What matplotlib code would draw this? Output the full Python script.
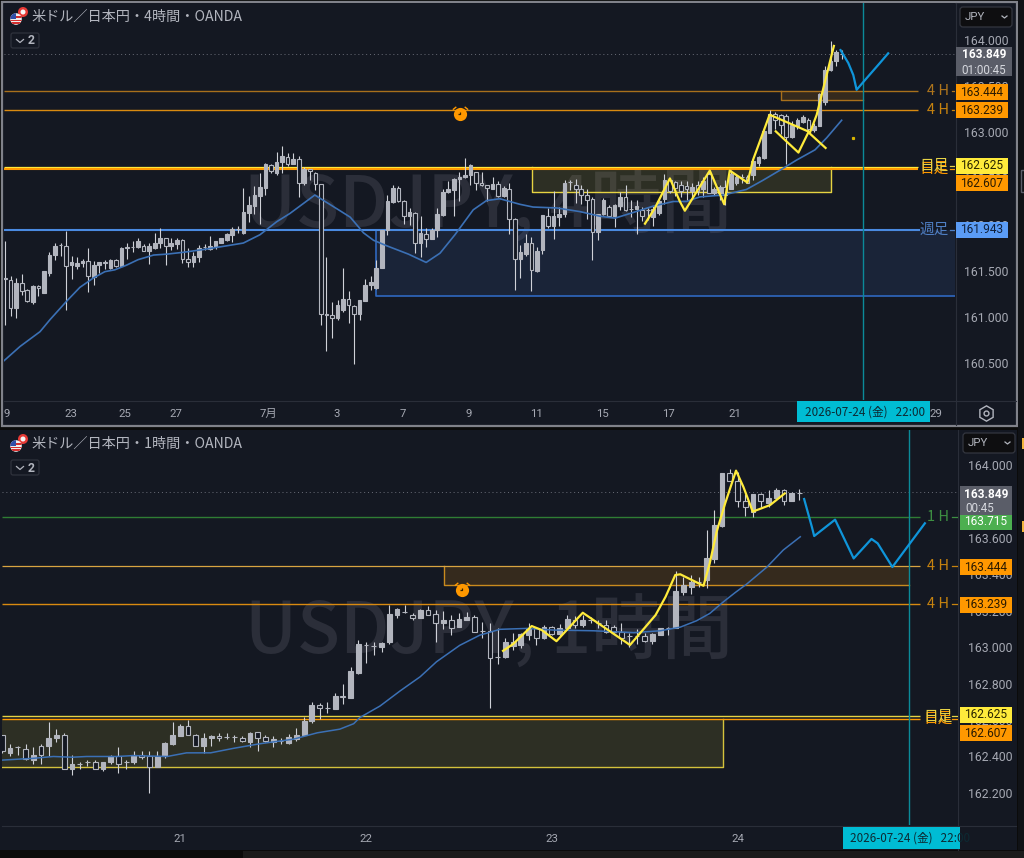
import matplotlib
matplotlib.use('Agg')
import matplotlib.pyplot as plt
from matplotlib.patches import Rectangle, FancyBboxPatch, Circle
from matplotlib.path import Path

plt.rcParams['font.family'] = ['Noto Sans CJK JP', 'DejaVu Sans']

# 4 hour candles
h4_open = [161.42,161.40,161.10,161.37,161.29,161.16,161.34,161.26,161.48,161.67,
161.78,161.77,161.56,161.55,161.58,161.61,161.43,161.56,161.60,161.53,
161.62,161.55,161.75,161.76,161.76,161.77,161.71,161.75,161.80,161.85,
161.77,161.79,161.83,161.63,161.59,161.65,161.76,161.74,161.76,161.80,
161.83,161.89,161.95,161.91,162.13,162.20,162.31,162.40,162.65,162.56,
162.68,162.73,162.66,162.71,162.45,162.60,162.56,162.44,161.03,161.02,
160.99,161.08,161.19,161.12,161.03,161.17,161.35,161.31,161.53,161.94,
162.24,162.40,162.26,162.09,162.13,161.80,161.90,161.84,161.94,162.10,
162.35,162.37,162.49,162.52,162.54,162.57,162.45,162.43,162.39,162.44,
162.31,162.39,162.06,161.63,161.68,161.80,161.50,161.73,162.09,161.99,
162.08,162.11,162.46,162.43,162.39,162.32,162.28,161.92,162.11,162.19,
162.09,162.20,162.30,162.17,162.17,162.16,162.16,162.08,162.13,162.28,
162.48,162.46,162.43,162.42,162.36,162.43,162.38,162.55,162.34,162.34,
162.41,162.39,162.45,162.51,162.52,162.54,162.67,162.72,162.99,163.20,
163.19,163.18,162.95,163.07,163.11,163.13,163.02,163.07,163.33,163.67,
163.77,163.85]
h4_close = [161.41,161.10,161.37,161.28,161.17,161.34,161.31,161.50,161.67,161.77,
161.78,161.55,161.60,161.58,161.61,161.44,161.56,161.60,161.58,161.62,
161.55,161.75,161.76,161.76,161.82,161.71,161.77,161.80,161.85,161.77,
161.80,161.83,161.63,161.59,161.66,161.75,161.76,161.77,161.82,161.85,
161.90,161.95,161.95,162.14,162.21,162.32,162.41,162.66,162.58,162.68,
162.74,162.66,162.71,162.45,162.60,162.58,162.44,161.03,161.02,160.99,
161.13,161.19,161.13,161.03,161.18,161.35,161.38,161.53,161.94,162.25,
162.40,162.25,162.09,162.14,161.80,161.91,161.84,161.94,162.11,162.35,
162.38,162.49,162.52,162.54,162.65,162.45,162.43,162.40,162.44,162.31,
162.40,162.06,161.63,161.70,161.80,161.51,161.71,162.10,161.99,162.09,
162.12,162.45,162.46,162.39,162.32,162.27,161.92,162.11,162.27,162.09,
162.21,162.30,162.16,162.17,162.20,162.09,162.16,162.17,162.25,162.48,
162.36,162.40,162.36,162.38,162.41,162.36,162.47,162.34,162.39,162.41,
162.32,162.55,162.52,162.51,162.45,162.69,162.73,163.01,163.20,163.13,
163.08,162.95,163.08,163.13,163.17,163.04,163.07,163.41,163.67,163.77,
163.87,163.85]
h4_high = [161.82,161.44,161.42,161.46,161.30,161.35,161.35,161.50,161.70,161.80,
161.80,161.93,161.66,161.65,161.63,161.75,161.61,161.60,161.62,161.63,
161.63,161.76,161.80,161.82,161.85,161.79,161.80,161.91,161.96,161.85,
161.85,161.85,161.84,161.75,161.70,161.78,161.79,161.88,161.82,161.86,
161.91,161.97,161.99,162.40,162.31,162.42,162.56,162.67,162.66,162.79,
162.85,162.77,162.77,162.74,162.62,162.60,162.57,162.44,161.65,161.16,
161.18,161.53,161.28,161.13,161.18,161.41,161.44,161.62,161.94,162.32,
162.43,162.42,162.27,162.18,162.14,162.09,161.96,161.96,162.18,162.38,
162.47,162.50,162.57,162.72,162.66,162.57,162.57,162.43,162.51,162.47,
162.42,162.45,162.07,161.78,161.90,161.87,161.76,162.10,162.18,162.36,
162.19,162.48,162.48,162.49,162.43,162.38,162.30,162.12,162.29,162.21,
162.22,162.35,162.43,162.27,162.27,162.19,162.18,162.20,162.30,162.55,
162.48,162.47,162.47,162.47,162.45,162.47,162.52,162.57,162.41,162.43,
162.48,162.59,162.54,162.55,162.54,162.71,162.74,163.05,163.24,163.22,
163.20,163.20,163.12,163.15,163.19,163.15,163.10,163.42,163.72,163.99,
163.89,163.89]
h4_low = [160.91,161.01,160.99,161.24,161.16,161.14,161.23,161.26,161.44,161.62,
161.66,161.08,161.41,161.52,161.54,161.27,161.35,161.48,161.52,161.52,
161.54,161.55,161.63,161.70,161.75,161.71,161.57,161.74,161.75,161.56,
161.73,161.74,161.58,161.54,161.54,161.59,161.73,161.73,161.74,161.80,
161.82,161.81,161.91,161.90,162.03,162.12,162.01,162.32,162.56,162.54,
162.56,162.63,162.66,162.30,162.43,162.48,162.37,160.91,160.63,160.77,
160.97,161.05,160.93,160.49,160.97,161.17,161.29,161.30,161.53,161.89,
162.23,162.24,162.01,162.00,161.69,161.65,161.76,161.84,161.87,162.09,
162.34,162.09,162.26,162.50,162.43,162.37,162.42,162.25,162.38,162.30,
162.30,161.90,161.29,161.42,161.66,161.28,161.49,161.68,161.96,161.84,
161.99,162.08,162.37,162.23,162.22,162.06,161.62,161.83,162.10,162.08,
161.97,162.16,162.15,162.08,161.90,162.04,162.05,161.99,162.10,162.22,
162.34,162.31,162.30,162.27,162.30,162.32,162.30,162.34,162.32,162.27,
162.21,162.38,162.43,162.45,162.45,162.48,162.63,162.71,162.99,163.03,
162.98,162.66,162.94,163.04,163.10,163.00,163.00,163.07,163.30,163.66,
163.72,163.79]

h4_ma_x = [-0.3,2.7,6.3,8.1,11.1,13.5,15.9,18,19.8,21.9,24,26.8,29.2,32.2,35.8,40,43,46,49,51.4,55.9,
           60.45,62.3,64.7,66.5,68.9,72.8,76,78.5,81.2,84.5,86.9,89.3,92.9,95.3,99.6,103.8,107.4,110.1,112.8,117,120.6,
           123,125.4,129.6,133.8,136.8,139.9,142.9,146.2,148.3,151]
h4_ma = [160.52,160.68,160.84,160.97,161.17,161.32,161.42,161.49,161.51,161.56,161.62,161.67,161.68,161.70,161.73,161.77,161.80,161.89,162.03,162.12,162.32,
         162.15,162.08,161.91,161.83,161.77,161.68,161.59,161.69,161.89,162.16,162.26,162.28,162.22,162.19,162.18,162.14,162.09,162.07,162.12,162.20,162.25,
         162.25,162.30,162.32,162.38,162.48,162.59,162.70,162.81,162.94,163.13]

h4_zig_x = [115.5,117.3,120,121.8,122.7,127.2,129.8,130.8,134,135,138,145.3,146.5,149.6]
h4_zig = [162.01,162.18,162.50,162.25,162.15,162.585,162.22,162.585,162.455,162.70,163.19,163.00,163.19,163.935]
h4_zig2_x = [139.1,143.2,145,148.1]
h4_zig2 = [163.01,162.78,163.00,162.83]
h4_path_x = [150.8,152.2,153.1,153.7,155.5,157.9,159.4]
h4_path = [163.89,163.75,163.62,163.46,163.585,163.75,163.855]

h4_days = ['9','23','25','27','7月','3','7','9','11','15','17','21','29']
h4_day_pos = [0.3,11.9,21.6,30.8,47.6,59.9,71.8,83.7,96,107.9,119.8,131.7,168]
h4_price_ticks = [164.0,163.5,163.0,162.5,162.0,161.5,161.0,160.5]

# 1 hour candles
h1_open = [162.52,162.42,162.45,162.44,162.38,162.46,162.46,162.50,162.52,162.33,
162.36,162.37,162.37,162.33,162.37,162.405,162.37,162.37,162.41,162.40,
162.345,162.40,162.47,162.515,162.57,162.52,162.46,162.50,162.515,162.505,
162.505,162.50,162.48,162.535,162.505,162.48,162.485,162.476,162.495,162.52,
162.595,162.683,162.668,162.663,162.73,162.72,162.86,163.01,163.005,163.0,
163.026,163.176,163.195,163.176,163.162,163.204,163.18,163.13,163.149,163.112,
163.149,163.167,163.09,163.09,162.948,162.948,163.006,163.01,163.067,163.103,
163.05,163.108,163.07,163.103,163.149,163.121,163.149,163.13,163.121,163.108,
163.085,163.06,163.06,163.063,163.033,163.066,163.103,163.103,163.304,163.332,
163.36,163.368,163.482,163.665,163.954,163.914,163.80,163.744,163.84,163.793,
163.817,163.863,163.804,163.845]
h1_close = [162.43,162.447,162.45,162.385,162.41,162.41,162.50,162.52,162.33,162.36,
162.36,162.37,162.33,162.37,162.40,162.36,162.37,162.41,162.395,162.345,
162.40,162.475,162.52,162.57,162.52,162.46,162.50,162.515,162.50,162.505,
162.505,162.485,162.53,162.50,162.487,162.495,162.485,162.505,162.52,162.595,
162.683,162.668,162.668,162.73,162.728,162.87,163.017,163.01,163.005,163.024,
163.18,163.207,163.194,163.158,163.204,163.178,163.13,163.149,163.108,163.154,
163.167,163.081,163.09,162.938,162.948,163.03,163.03,163.07,163.103,163.05,
163.108,163.07,163.103,163.152,163.121,163.149,163.15,163.13,163.085,163.085,
163.052,163.06,163.06,163.035,163.07,163.103,163.103,163.31,163.34,163.36,
163.36,163.487,163.67,163.958,163.914,163.80,163.767,163.84,163.80,163.817,
163.863,163.804,163.848,163.845]
h1_high = [162.52,162.47,162.458,162.47,162.45,162.47,162.59,162.55,162.53,162.41,
162.37,162.38,162.38,162.37,162.41,162.45,162.38,162.43,162.43,162.43,
162.43,162.48,162.59,162.58,162.60,162.525,162.53,162.52,162.53,162.53,
162.52,162.51,162.535,162.535,162.52,162.51,162.50,162.524,162.555,162.615,
162.698,162.692,162.698,162.75,162.80,162.89,163.04,163.03,163.03,163.03,
163.23,163.213,163.23,163.185,163.21,163.228,163.204,163.20,163.176,163.185,
163.195,163.176,163.136,163.13,163.108,163.048,163.076,163.076,163.13,163.108,
163.12,163.116,163.127,163.176,163.17,163.176,163.163,163.149,163.149,163.121,
163.134,163.076,163.098,163.076,163.076,163.108,163.112,163.42,163.387,163.396,
163.387,163.643,163.753,163.958,163.98,163.96,163.84,163.84,163.845,163.863,
163.875,163.866,163.854,163.866]
h1_low = [162.42,162.40,162.41,162.38,162.36,162.36,162.40,162.48,162.33,162.30,
162.33,162.35,162.33,162.32,162.36,162.31,162.33,162.36,162.385,162.20,
162.34,162.39,162.465,162.51,162.52,162.46,162.42,162.46,162.485,162.495,
162.48,162.48,162.45,162.43,162.48,162.45,162.467,162.47,162.485,162.518,
162.586,162.604,162.637,162.66,162.69,162.72,162.855,162.915,162.957,162.975,
163.02,163.158,163.19,163.15,163.158,163.176,163.026,163.10,163.066,163.112,
163.149,163.081,163.052,162.664,162.907,162.938,162.984,162.993,163.04,163.01,
163.043,163.066,163.057,163.094,163.108,163.112,163.134,163.108,163.076,163.076,
163.02,163.0,163.02,163.03,163.02,163.066,163.066,163.103,163.286,163.29,
163.332,163.325,163.46,163.66,163.91,163.77,163.72,163.716,163.77,163.77,
163.817,163.78,163.80,163.808]

h1_ma_x = [-0.1,4,6.6,9,10.9,14.8,16.9,21.3,23.8,26.9,29.9,33.3,37.6,40.7,43.6,
           45.4,46.2,48.8,51.4,54,56.1,59.1,61.7,64.3,67.8,71.2,76.4,81.6,85,87.6,
           89.7,91.4,93.2,94.7,96.2,98.8,100.9,103.1]
h1_ma = [162.38,162.39,162.40,162.396,162.40,162.40,162.405,162.40,162.42,162.42,162.445,162.47,162.495,162.53,162.55,
         162.58,162.614,162.677,162.76,162.838,162.92,163.01,163.066,163.098,163.103,163.094,163.09,163.08,163.09,163.11,
         163.145,163.185,163.25,163.30,163.347,163.44,163.533,163.606]

h1_zig_x = [64.7,66,68.4,69.7,71.6,75,81.1,84.4,85.7,86.95,87.6,90.6,91.4,92.3,93.4,94.8,95.75,96.96,99.2,101.1]
h1_zig = [162.98,163.017,163.116,163.094,163.033,163.189,163.012,163.176,163.277,163.396,163.40,163.337,163.46,163.634,163.79,163.969,163.88,163.744,163.78,163.844]
h1_path_x = [103.6,104.6,104.9,107.6,110,112.3,113.1,115,119.2]
h1_path = [163.813,163.66,163.61,163.70,163.487,163.594,163.57,163.44,163.68]

h1_days = ['21','22','23','24']
h1_day_pos = [23,47,71,95]
h1_price_ticks = [164.0,163.8,163.6,163.4,163.2,163.0,162.8,162.6,162.4,162.2]

BG = '#141822'
AXIS_TXT = '#a6a9b3'
CANDLE = '#b2b5be'
WICK = '#cfd1d8'
MA = '#3b70b5'
YELLOW = '#ffeb3b'
ORANGE = '#ff9800'
BLUE = '#5b9cf6'
PATH_BLUE = '#0f95da'
CYAN = '#0b8a99'
WATERMARK = '#2b2e39'

fig = plt.figure(figsize=(10.24, 8.58), dpi=100, facecolor='#0b0b0b')


def px_axes(x0, y0, x1, y1):
    return fig.add_axes([x0/1024, 1-y1/858, (x1-x0)/1024, (y1-y0)/858])


def candles(ax, o, h, l, c, width):
    x = list(range(len(o)))
    ax.vlines(x, l, h, color=WICK, lw=0.8, zorder=2)
    up = [b >= a for a, b in zip(o, c)]
    bottoms = [min(a, b) for a, b in zip(o, c)]
    heights = [abs(a-b) for a, b in zip(o, c)]
    faces = [CANDLE if u else BG for u in up]
    ax.bar(x, heights, bottom=bottoms, width=width, color=faces, edgecolor=CANDLE, lw=0.8, zorder=3)


def alarm(ax, x, y):
    ax.plot([x], [y], 'o', color=ORANGE, ms=9.5, mew=0, zorder=6)
    ears = Path([(-1.1, 0.7), (-0.6, 1.1), (0.6, 1.1), (1.1, 0.7)], [Path.MOVETO, Path.LINETO, Path.MOVETO, Path.LINETO])
    ax.plot([x], [y], marker=ears, color=ORANGE, ms=11, mew=1, fillstyle='none', zorder=6)
    hand = Path([(0, 1), (0, 0), (-1, 0)])
    ax.plot([x], [y], marker=hand, color='#3a2500', ms=3.5, mew=0.9, fillstyle='none', zorder=7)


def chip(ax, price, txt, bg, fg, x0, x1, ppu, dy=0, h=16):
    # x0, x1 in pixels relative to the pane, dy moves the chip off its price
    w = ax.get_window_extent().width
    yc = price - dy/ppu
    ax.add_patch(Rectangle((x0/w, yc-h/2/ppu), (x1-x0)/w, h/ppu, transform=ax.get_yaxis_transform(),
                           facecolor=bg, edgecolor='none', clip_on=False, zorder=20))
    ax.text((x0+x1)/2/w, yc, txt, transform=ax.get_yaxis_transform(), ha='center', va='center',
            color=fg, fontsize=8.6, family='Roboto', clip_on=False, zorder=21)


def tag(ax, price, txt, color, xt, dash0, dash1, size=10.5):
    w = ax.get_window_extent().width
    ax.text(xt/w, price, txt, transform=ax.get_yaxis_transform(), ha='center', va='center',
            color=color, fontsize=size, zorder=8)
    ax.plot([dash0/w, dash1/w], [price, price], color=color, lw=0.9, transform=ax.get_yaxis_transform(), zorder=8)


def setup(ax, xlim, ylim, ticks, days, day_pos, pad):
    ax.set_facecolor(BG)
    ax.set_xlim(*xlim)
    ax.set_ylim(*ylim)
    for s in ax.spines.values():
        s.set_visible(False)
    ax.yaxis.tick_right()
    ax.set_yticks(ticks)
    ax.set_yticklabels(['%.3f' % t for t in ticks])
    ax.tick_params(axis='y', length=0, pad=pad, labelcolor=AXIS_TXT, labelsize=8.8, labelfontfamily='Roboto')
    ax.set_xticks(day_pos)
    ax.set_xticklabels(days, family=['Roboto', 'Noto Sans CJK JP'])
    ax.tick_params(axis='x', length=0, pad=6.5, labelcolor=AXIS_TXT, labelsize=8.2)


# chrome behind the charts
bg = fig.add_axes([0, 0, 1, 1], zorder=0)
bg.set_xlim(0, 1024)
bg.set_ylim(858, 0)
bg.axis('off')
bg.add_patch(Rectangle((243, 851), 781, 7, facecolor='#1b1b1b', edgecolor='none'))
bg.add_patch(Rectangle((2, 2), 1015, 424, facecolor=BG, edgecolor='#80828a', lw=1.6))
bg.add_patch(Rectangle((0, 430), 1017, 420, facecolor=BG, edgecolor='none'))
bg.plot([4, 1016], [401, 401], color='#2a2e39', lw=0.8)
bg.plot([956, 956], [3, 425], color='#2a2e39', lw=0.8)
bg.plot([2, 1016], [826, 826], color='#2a2e39', lw=0.8)
bg.plot([958, 958], [430, 850], color='#2a2e39', lw=0.8)

# 4 hour pane
ax1 = px_axes(4, 3, 955, 400)
ax1.set_zorder(2)
setup(ax1, (-0.2, 171.46), (160.1, 164.4), h4_price_ticks, h4_days, h4_day_pos, 6.8)
ax1.text(0.2525, 0.4875, 'USDJPY, 4時間', transform=ax1.transAxes, fontsize=51, color=WATERMARK,
         fontweight='medium', va='center', ha='left', zorder=0)

ax1.axhline(163.849, color='#6a6d78', lw=0.7, ls=(0, (1, 3)), zorder=1)
ax1.add_patch(Rectangle((66.9, 161.226), 171.46-66.9, 161.943-161.226, facecolor='#5090fe', alpha=0.1, edgecolor='none', zorder=1))
ax1.plot([171.46, 66.9, 66.9], [161.226, 161.226, 161.943], color='#2f68c0', lw=1.2, zorder=1.5)
ax1.add_patch(Rectangle((95.05, 162.353), 149-95.05, 162.625-162.353, facecolor=YELLOW, alpha=0.11, edgecolor='none', zorder=1))
ax1.plot([95.05, 95.05, 149, 149], [162.625, 162.353, 162.353, 162.625], color='#e6d342', lw=1.0, zorder=1.5)
ax1.add_patch(Rectangle((140.1, 163.35), 154.9-140.1, 163.444-163.35, facecolor=ORANGE, alpha=0.14, edgecolor='none', zorder=1))
ax1.plot([140.1, 140.1, 154.9], [163.444, 163.35, 163.35], color='#a8701c', lw=1.0, zorder=1.5)
ax1.hlines(163.444, -0.2, 164.8, color='#a8701c', lw=1.0, zorder=1.5)
ax1.hlines(163.239, -0.2, 164.8, color='#d98a10', lw=1.0, zorder=1.5)
ax1.hlines(162.625, -0.2, 164.8, color=YELLOW, lw=0.9, zorder=1.5)
ax1.hlines(162.607, -0.2, 164.8, color=ORANGE, lw=1.5, zorder=1.6)
ax1.hlines(161.943, -0.2, 165.2, color='#4a8ae0', lw=1.5, zorder=1.5)
ax1.axvline(154.9, color=CYAN, lw=1.0, zorder=1.7)

candles(ax1, h4_open, h4_high, h4_low, h4_close, 0.66)
ax1.plot(h4_ma_x, h4_ma, color=MA, lw=1.2, zorder=4)
ax1.plot(h4_zig_x, h4_zig, color=YELLOW, lw=1.6, zorder=5)
ax1.plot(h4_zig2_x, h4_zig2, color=YELLOW, lw=1.6, zorder=5)
ax1.plot(h4_path_x, h4_path, color=PATH_BLUE, lw=1.6, zorder=5)
ax1.plot([153.0], [162.94], 's', color='#d9b400', ms=1.3, zorder=5)
alarm(ax1, 82.1, 163.198)

tag(ax1, 163.444, '4 H', '#b0761c', 934, 948, 953)
tag(ax1, 163.239, '4 H', '#c7830f', 934, 948, 953)
tag(ax1, 162.607, '日足', ORANGE, 930, 946, 951)
tag(ax1, 162.635, '日足', '#e7d347', 929.5, 946, 951)
tag(ax1, 161.943, '週足', '#4f7fc4', 930, 946, 951)
p1 = 92.3
chip(ax1, 163.444, '163.444', ORANGE, '#2a1a00', 952, 1004, p1, dy=1)
chip(ax1, 163.239, '163.239', ORANGE, '#2a1a00', 952, 1004, p1)
chip(ax1, 162.625, '162.625', YELLOW, '#2a2600', 952, 1004, p1, dy=-1)
chip(ax1, 162.607, '162.607', ORANGE, '#2a1a00', 952, 1004, p1, dy=14.5)
chip(ax1, 161.943, '161.943', BLUE, '#10203a', 952, 1004, p1)

# 1 hour pane
ax2 = px_axes(2, 430, 958, 825)
ax2.set_zorder(2)
setup(ax2, (-0.04, 123.48), (162.024, 164.192), h1_price_ticks, h1_days, h1_day_pos, 7.4)
ax2.text(0.2545, 0.4875, 'USDJPY, 1時間', transform=ax2.transAxes, fontsize=51, color=WATERMARK,
         fontweight='medium', va='center', ha='left', zorder=0)

ax2.axhline(163.849, color='#6a6d78', lw=0.7, ls=(0, (1, 3)), zorder=1)
ax2.add_patch(Rectangle((57.1, 163.34), 117.1-57.1, 163.444-163.34, facecolor=ORANGE, alpha=0.14, edgecolor='none', zorder=1))
ax2.plot([57.1, 57.1, 117.1], [163.444, 163.34, 163.34], color='#c98a1e', lw=1.0, zorder=1.5)
ax2.add_patch(Rectangle((-0.04, 162.342), 93.1, 162.607-162.342, facecolor=YELLOW, alpha=0.11, edgecolor='none', zorder=1))
ax2.plot([-0.04, 93.06, 93.06], [162.342, 162.342, 162.607], color='#d4c23c', lw=1.0, zorder=1.5)
ax2.hlines(163.715, -0.04, 118.6, color='#2f7d34', lw=1.0, zorder=1.5)
ax2.hlines(163.444, -0.04, 118.6, color='#d9a441', lw=0.9, zorder=1.5)
ax2.hlines(163.239, -0.04, 118.6, color='#d98a10', lw=1.0, zorder=1.5)
ax2.hlines(162.625, -0.04, 118.6, color='#e6d342', lw=1.0, zorder=1.5)
ax2.hlines(162.607, -0.04, 118.6, color=ORANGE, lw=1.0, zorder=1.5)
ax2.axvline(117.1, color=CYAN, lw=1.0, zorder=1.7)

candles(ax2, h1_open, h1_high, h1_low, h1_close, 0.62)
ax2.plot(h1_ma_x, h1_ma, color=MA, lw=1.1, zorder=4)
ax2.plot(h1_zig_x, h1_zig, color=YELLOW, lw=1.6, zorder=5)
ax2.plot(h1_path_x, h1_path, color=PATH_BLUE, lw=1.6, zorder=5)
alarm(ax2, 59.4, 163.314)

tag(ax2, 163.715, '1 H', '#3d8f42', 936, 950, 955)
tag(ax2, 163.444, '4 H', '#c7830f', 936, 950, 955)
tag(ax2, 163.239, '4 H', '#c7830f', 936, 950, 955)
tag(ax2, 162.607, '日足', ORANGE, 936, 950, 955)
tag(ax2, 162.62, '日足', '#e7d347', 935.5, 950, 955)
p2 = 182.2
chip(ax2, 163.715, '163.715', '#4caf50', '#ffffff', 958, 1010, p2, dy=5)
chip(ax2, 163.444, '163.444', ORANGE, '#2a1a00', 958, 1010, p2, dy=1)
chip(ax2, 163.239, '163.239', ORANGE, '#2a1a00', 958, 1010, p2, dy=1)
chip(ax2, 162.625, '162.625', YELLOW, '#2a2600', 958, 1010, p2, dy=-1)
chip(ax2, 162.607, '162.607', ORANGE, '#2a1a00', 958, 1010, p2, dy=14.5)

# chrome above the charts
top = fig.add_axes([0, 0, 1, 1], zorder=5)
top.set_xlim(0, 1024)
top.set_ylim(858, 0)
top.axis('off')
top.patch.set_alpha(0)


def header(y, txt):
    top.add_patch(Circle((23, y-5), 5, facecolor='#e53935', edgecolor='none'))
    top.add_patch(Circle((23, y-5), 2.5, facecolor='#f5f5f5', edgecolor='none'))
    flag = Circle((16, y+2), 5.8, facecolor='#eeeeee', edgecolor='none')
    top.add_patch(flag)
    for dy, col in [(-2, '#d32f2f'), (1.5, '#d32f2f'), (4, '#d32f2f')]:
        r = top.add_patch(Rectangle((9, y+2+dy-0.7), 14, 1.5, facecolor=col, edgecolor='none'))
        r.set_clip_path(flag)
    c = top.add_patch(Rectangle((9, y-5), 7, 6.5, facecolor='#2f4fa8', edgecolor='none'))
    c.set_clip_path(flag)
    top.text(31, y, txt, color='#b2b5be', fontsize=10.2, va='center', ha='left')
    top.add_patch(FancyBboxPatch((11, y+16), 28, 15, boxstyle='round,pad=0,rounding_size=2', facecolor='none', edgecolor='#2f323c', lw=0.9))
    top.plot([16.5, 20, 23.5], [y+22.5, y+25.5, y+22.5], color='#b2b5be', lw=0.9)
    top.text(31, y+24, '2', color='#b2b5be', fontsize=8.8, va='center', ha='center', family='Roboto', fontweight='bold')


header(17, '米ドル／日本円・4時間・OANDA')
header(444, '米ドル／日本円・1時間・OANDA')


def dropdown(x0, y0):
    top.add_patch(FancyBboxPatch((x0, y0), 52, 20, boxstyle='round,pad=0,rounding_size=3', facecolor='#0e0e10', edgecolor='#33363f', lw=0.9))
    top.text(x0+5, y0+10, 'JPY', color='#b2b5be', fontsize=8.2, va='center', family='Roboto')
    top.plot([x0+42, x0+44.5, x0+47], [y0+9, y0+11, y0+9], color='#b2b5be', lw=0.9)


dropdown(960, 7)
dropdown(963, 433)


def price_box(x0, x1, y0, y1, line1, line2):
    top.add_patch(Rectangle((x0, y0), x1-x0, y1-y0, facecolor='#5a5d68', edgecolor='none'))
    top.text((x0+x1)/2, y0+8, line1, color='#ffffff', fontsize=8.6, ha='center', va='center', family='Roboto', fontweight='bold')
    top.text(x0+5, y0+23, line2, color='#d6d8de', fontsize=8.4, ha='left', va='center', family='Roboto')


price_box(956, 1012, 47, 76, '163.849', '01:00:45')
price_box(960, 1012, 486, 515, '163.849', '00:45')

# time cursor chips
top.add_patch(Rectangle((797, 401), 133, 21, facecolor='#00bcd4', edgecolor='none'))
top.text(805, 412, '2026-07-24 (金)   22:00', color='#0c2a33', fontsize=8.4, va='center', ha='left')
top.add_patch(Rectangle((843, 827), 117, 22, facecolor='#00bcd4', edgecolor='none'))
clip = Rectangle((843, 827), 117, 22, transform=top.transData)
t = top.text(850, 838.5, '2026-07-24 (金)   22:00', color='#0c2a33', fontsize=8.4, va='center', ha='left')
t.set_clip_path(clip)

# settings gear
top.plot([986], [413], 'h', ms=11, mfc='none', mec='#b2b5be', mew=1)
top.plot([986], [413], 'o', ms=3.5, mfc='none', mec='#b2b5be', mew=1)

# right hand strip
top.add_patch(Rectangle((1018, 0), 6, 850, facecolor='#101216', edgecolor='none'))
top.add_patch(Rectangle((1021, 170), 5, 22, facecolor='none', edgecolor='#5a5d68', lw=1))
top.add_patch(Rectangle((1022, 438), 3, 11, facecolor='#f0b43c', edgecolor='none'))
top.add_patch(Rectangle((1022, 521), 3, 11, facecolor='#f0b43c', edgecolor='none'))

fig.savefig('out.png', dpi=100, facecolor=fig.get_facecolor())
